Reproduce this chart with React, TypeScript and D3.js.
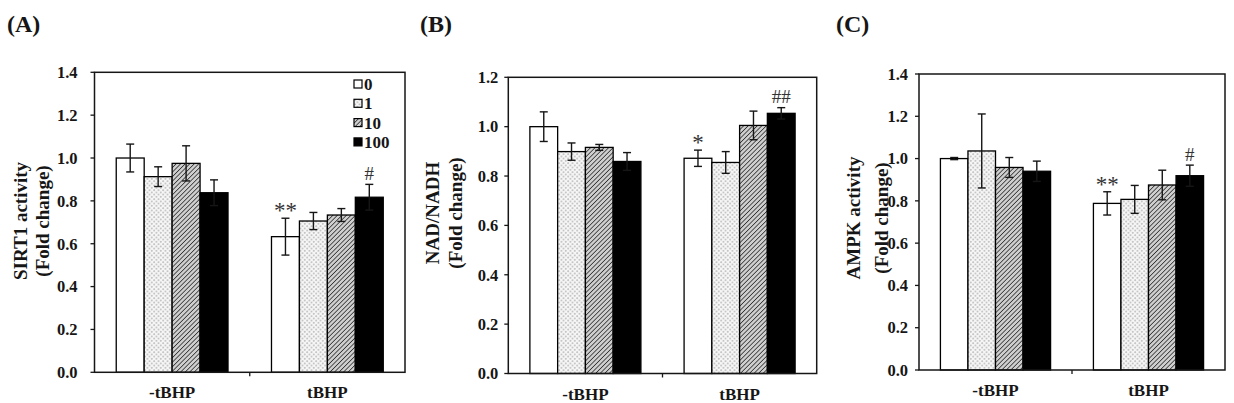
import * as d3 from "d3";

// groups on the x axis and the four dose levels inside each group
const groups = ["-tBHP", "tBHP"];
const doses = ["0", "1", "10", "100"];

// (A) SIRT1 activity, fold change: [group][dose]
const sirt1Mean = [
  [1.0, 0.913, 0.975, 0.838],
  [0.633, 0.706, 0.734, 0.817],
];
const sirt1Err = [
  [0.065, 0.046, 0.082, 0.06],
  [0.086, 0.04, 0.03, 0.06],
];
const sirt1Notes = [
  { group: 1, dose: 0, text: "**" },
  { group: 1, dose: 3, text: "#" },
];

// (B) NAD/NADH ratio
const nadMean = [
  [1.0, 0.899, 0.916, 0.859],
  [0.872, 0.855, 1.005, 1.054],
];
const nadErr = [
  [0.06, 0.035, 0.012, 0.036],
  [0.033, 0.044, 0.058, 0.023],
];
const nadNotes = [
  { group: 1, dose: 0, text: "*" },
  { group: 1, dose: 3, text: "##" },
];

// (C) AMPK activity
const ampkMean = [
  [1.0, 1.036, 0.958, 0.94],
  [0.788, 0.807, 0.875, 0.919],
];
const ampkErr = [
  [0.005, 0.175, 0.047, 0.048],
  [0.055, 0.066, 0.07, 0.05],
];
const ampkNotes = [
  { group: 1, dose: 0, text: "**" },
  { group: 1, dose: 3, text: "#" },
];

const yTicksA = [0, 0.2, 0.4, 0.6, 0.8, 1.0, 1.2, 1.4];
const yTicksB = [0, 0.2, 0.4, 0.6, 0.8, 1.0, 1.2];

const FONT = "'Liberation Serif', 'Times New Roman', serif";
const INK = "#161616";
const fills = ["#ffffff", "url(#dots)", "url(#hatch)", "#000000"];

const panels = [
  {
    id: "A",
    label: "(A)",
    labelX: 7,
    title: ["SIRT1 activity", "(Fold change)"],
    titleX: [20, 42],
    titleY: 221,
    mean: sirt1Mean,
    err: sirt1Err,
    notes: sirt1Notes,
    ticks: yTicksA,
    left: 94.5,
    right: 405,
    top: 72.3,
    bottom: 372.3,
    tickGap: 13,
    legend: true,
  },
  {
    id: "B",
    label: "(B)",
    labelX: 420,
    title: ["NAD/NADH", "(Fold change)"],
    titleX: [432, 455],
    titleY: 213,
    mean: nadMean,
    err: nadErr,
    notes: nadNotes,
    ticks: yTicksB,
    left: 508.3,
    right: 816.7,
    top: 77.3,
    bottom: 373.5,
    tickGap: 6,
    legend: false,
  },
  {
    id: "C",
    label: "(C)",
    labelX: 836,
    title: ["AMPK activity", "(Fold change)"],
    titleX: [853, 881],
    titleY: 218,
    mean: ampkMean,
    err: ampkErr,
    notes: ampkNotes,
    ticks: yTicksA,
    left: 919,
    right: 1225,
    top: 74,
    bottom: 370,
    tickGap: 7,
    legend: false,
  },
];

function Panel({ p }: { p: (typeof panels)[number] }) {
  const yMax = p.ticks[p.ticks.length - 1];
  const y = d3.scaleLinear().domain([0, yMax]).range([p.bottom, p.top]);
  const x0 = d3.scaleBand<string>().domain(groups).range([p.left, p.right]).padding(0);
  const step = x0.step();
  const x1 = d3
    .scaleBand<string>()
    .domain(doses)
    .range([step * 0.14, step * 0.86])
    .padding(0);
  const fmt = d3.format(".1f");
  const capW = 4;

  return (
    <g>
      <text x={p.labelX} y={32} fontSize={24} fontWeight="bold" fontFamily={FONT} fill={INK}>
        {p.label}
      </text>

      {/* y axis titles */}
      {p.title.map((t, i) => (
        <text
          key={t}
          transform={`translate(${p.titleX[i]},${p.titleY}) rotate(-90)`}
          textAnchor="middle"
          dominantBaseline="central"
          fontSize={19}
          fontWeight="bold"
          fontFamily={FONT}
          fill={INK}
        >
          {t}
        </text>
      ))}

      {/* bars */}
      {groups.map((g, gi) =>
        doses.map((d, di) => {
          const bx = (x0(g) ?? 0) + (x1(d) ?? 0);
          const v = p.mean[gi][di];
          return (
            <rect
              key={`${g}-${d}`}
              x={bx}
              y={y(v)}
              width={x1.bandwidth()}
              height={y(0) - y(v)}
              fill={fills[di]}
              stroke="#000"
              strokeWidth={1.3}
            />
          );
        })
      )}

      {/* error bars */}
      {groups.map((g, gi) =>
        doses.map((d, di) => {
          const cx = (x0(g) ?? 0) + (x1(d) ?? 0) + x1.bandwidth() / 2;
          const v = p.mean[gi][di];
          const e = p.err[gi][di];
          return (
            <g key={`e-${g}-${d}`} stroke={INK} strokeWidth={1.4}>
              <line x1={cx} x2={cx} y1={y(v - e)} y2={y(v + e)} />
              <line x1={cx - capW} x2={cx + capW} y1={y(v + e)} y2={y(v + e)} />
              <line x1={cx - capW} x2={cx + capW} y1={y(v - e)} y2={y(v - e)} />
            </g>
          );
        })
      )}

      {/* significance marks */}
      {p.notes.map((n) => {
        const g = groups[n.group];
        const d = doses[n.dose];
        const cx = (x0(g) ?? 0) + (x1(d) ?? 0) + x1.bandwidth() / 2;
        const top = y(p.mean[n.group][n.dose] + p.err[n.group][n.dose]);
        const cy = top - 11;
        const star = n.text.includes("*");
        const fs = star ? 23 : 19;
        return (
          <text
            key={`${n.group}-${n.dose}`}
            x={cx}
            y={cy + fs * (star ? 0.48 : 0.34)}
            textAnchor="middle"
            fontSize={fs}
            fontFamily={FONT}
            fill="#333"
          >
            {n.text}
          </text>
        );
      })}

      {/* frame */}
      <rect
        x={p.left}
        y={p.top}
        width={p.right - p.left}
        height={p.bottom - p.top}
        fill="none"
        stroke={INK}
        strokeWidth={1.5}
      />

      {/* y ticks and labels */}
      {p.ticks.map((t) => (
        <g key={t}>
          <line x1={p.left - 4} x2={p.left} y1={y(t)} y2={y(t)} stroke={INK} strokeWidth={1.3} />
          <text
            x={p.left - 4 - p.tickGap}
            y={y(t)}
            dy="0.35em"
            textAnchor="end"
            fontSize={16.5}
            fontWeight="bold"
            fontFamily={FONT}
            fill={INK}
          >
            {fmt(t)}
          </text>
        </g>
      ))}

      {/* x tick between the groups and group labels */}
      <line
        x1={x0(groups[1])}
        x2={x0(groups[1])}
        y1={p.bottom}
        y2={p.bottom + 4}
        stroke={INK}
        strokeWidth={1.3}
      />
      {groups.map((g) => (
        <text
          key={g}
          x={(x0(g) ?? 0) + step / 2}
          y={p.bottom + 26}
          textAnchor="middle"
          fontSize={17}
          fontWeight="bold"
          fontFamily={FONT}
          fill={INK}
        >
          {g}
        </text>
      ))}

      {p.legend &&
        doses.map((d, i) => (
          <g key={`lg-${d}`} transform={`translate(354,${84 + i * 19.3})`}>
            <rect x={0} y={-4} width={8} height={8} fill={fills[i]} stroke="#000" strokeWidth={1.2} />
            <text x={10} y={0} dy="0.36em" fontSize={17} fontWeight="bold" fontFamily={FONT} fill={INK}>
              {d}
            </text>
          </g>
        ))}
    </g>
  );
}

export default function App() {
  return (
    <svg
      width={1234}
      height={403}
      style={{ position: "absolute", left: 0, top: 0, background: "#fff" }}
    >
      <defs>
        <pattern id="dots" width={4.5} height={4.5} patternUnits="userSpaceOnUse">
          <rect width={4.5} height={4.5} fill="#f7f7f7" />
          <circle cx={1.1} cy={1.1} r={0.9} fill="#b4b4b4" />
          <circle cx={3.35} cy={3.35} r={0.9} fill="#b4b4b4" />
        </pattern>
        <pattern
          id="hatch"
          width={3.2}
          height={3.2}
          patternUnits="userSpaceOnUse"
          patternTransform="rotate(45)"
        >
          <rect width={3.2} height={3.2} fill="#cfcfcf" />
          <line x1={0} y1={0} x2={0} y2={3.2} stroke="#333" strokeWidth={1.6} />
        </pattern>
      </defs>
      <rect width={1234} height={403} fill="#fff" />
      {panels.map((p) => (
        <Panel key={p.id} p={p} />
      ))}
    </svg>
  );
}
